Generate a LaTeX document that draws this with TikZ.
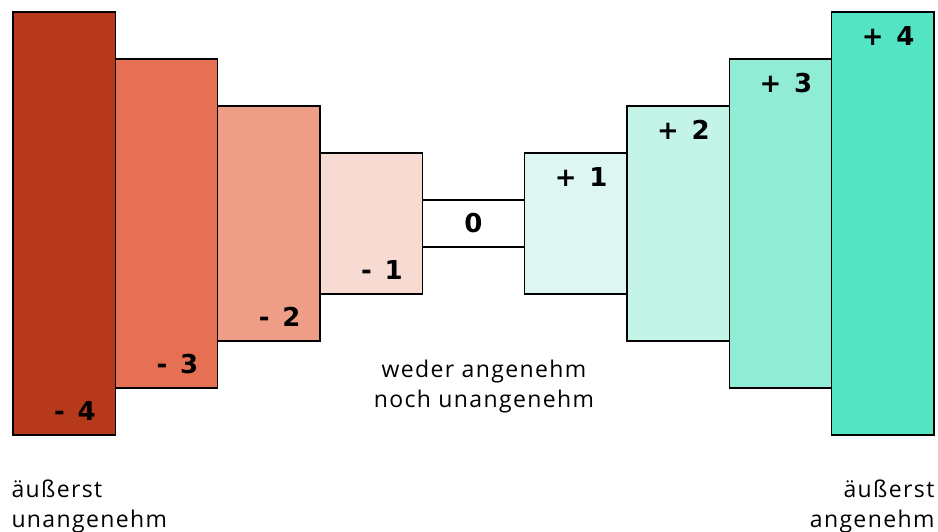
\documentclass[tikz,border=0pt]{standalone}
\usepackage{fontspec}
\setmainfont{Open Sans}[LetterSpace=6]
\newfontfamily\numfont{DejaVu Sans}[LetterSpace=14]
\usetikzlibrary{positioning}
\definecolor{neg4}{RGB}{183,57,27}
\definecolor{neg3}{RGB}{230,112,84}
\definecolor{neg2}{RGB}{238,157,135}
\definecolor{neg1}{RGB}{247,218,210}
\definecolor{pos1}{RGB}{222,246,242}
\definecolor{pos2}{RGB}{196,244,232}
\definecolor{pos3}{RGB}{145,236,214}
\definecolor{pos4}{RGB}{83,228,196}
\tikzset{
  bar/.style={rectangle, draw=black, line width=1.4pt,
    minimum width=102.3pt, inner sep=0pt},
  val/.style={font=\numfont\bfseries\fontsize{26}{26}\selectfont, inner sep=0pt},
  caption/.style={font=\fontsize{23}{29.5}\selectfont, inner sep=0pt}
}
\begin{document}
\begin{tikzpicture}[x=1pt,y=-1pt]
  \useasboundingbox (0,0) rectangle (938,531);
  % bars, all centred on one line
  \foreach \name/\h/\col [count=\i] in {m4/423/neg4, m3/329/neg3, m2/235/neg2,
      m1/141/neg1, z/47/white, p1/141/pos1, p2/235/pos2, p3/329/pos3, p4/423/pos4}
    \node[bar, fill=\col, minimum height={\h pt}] (\name) at ({13+102.33*(\i-0.5)},223.5) {};
  % values
  \foreach \name/\txt in {m4/- 4, m3/- 3, m2/- 2, m1/- 1}
    \node[val, anchor=base east] (v\name) at ([xshift=-20pt, yshift=15pt]\name.south east) {\txt};
  \node[val] (vz) at (z) {0};
  \foreach \name/\txt in {p1/+ 1, p2/+ 2, p3/+ 3, p4/+ 4}
    \node[val, anchor=north east] (v\name) at ([xshift=-20pt, yshift=-15pt]\name.north east) {\txt};
  % captions (base = last line)
  \node[caption, align=center, anchor=base] (mid) at (484,407) {weder angenehm\\noch unangenehm};
  \node[caption, align=left, anchor=base west] (low) at ([xshift=-1pt, yshift=-91.5pt]m4.south west) {äußerst\\unangenehm};
  \node[caption, align=right, anchor=base east] (high) at ([yshift=-91.5pt]p4.south east) {äußerst\\angenehm};
\end{tikzpicture}
\end{document}
